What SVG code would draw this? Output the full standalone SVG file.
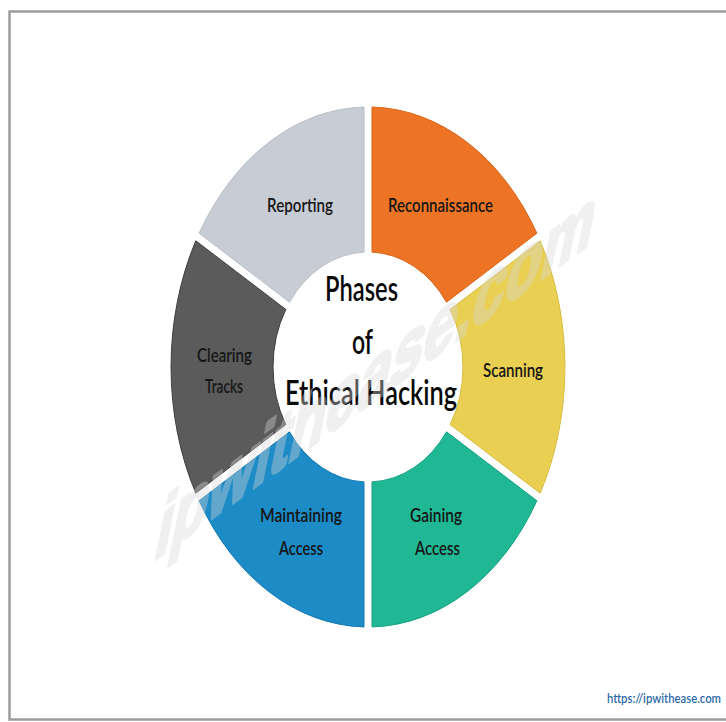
<svg xmlns="http://www.w3.org/2000/svg" width="726" height="722" viewBox="0 0 726 722">
  <style>
    .seg { stroke-width: 1; }
    .lbl { font-family: Lato, "Open Sans", "Liberation Sans", sans-serif; font-size: 20px; font-weight: 600; fill: #161616; text-anchor: middle; }
    .title { font-family: Lato, "Open Sans", "Liberation Sans", sans-serif; font-size: 34px; font-weight: 600; fill: #0a0a0a; text-anchor: middle; }
    .mark { font-family: "Liberation Sans", Arial, sans-serif; font-size: 92px; font-weight: bold; fill: #d8d8d8; stroke: #d8d8d8; stroke-width: 4; stroke-linejoin: round; }
    .url { font-family: Lato, "Open Sans", "Liberation Sans", sans-serif; font-size: 14px; font-weight: 600; fill: #2c6aa8; }
  </style>

  <!-- page -->
  <rect x="0" y="0" width="726" height="722" fill="#ffffff"/>
  <rect x="9.5" y="11.5" width="740" height="708" fill="#ffffff" stroke="#9c9c9c" stroke-width="2.5"/>

  <!-- ring segments, clockwise from the top -->
  <g id="reconnaissance">
    <path class="seg" fill="#ec7424" stroke="#d9661a" d="M 372 107.05 A 197 260 0 0 1 536.9 233.2 L 446.5 302.2 A 95 115 0 0 0 372 252.1 Z"/>
    <text class="lbl" x="440.5" y="212" textLength="105" lengthAdjust="spacingAndGlyphs">Reconnaissance</text>
  </g>
  <g id="scanning">
    <path class="seg" fill="#e9cf52" stroke="#d8bd40" d="M 540.2 240.8 A 197 260 0 0 1 540.2 493.2 L 450.2 424.6 A 95 115 0 0 0 450.2 309.4 Z"/>
    <text class="lbl" x="513" y="377" textLength="60" lengthAdjust="spacingAndGlyphs">Scanning</text>
  </g>
  <g id="gaining-access">
    <path class="seg" fill="#20b795" stroke="#17a383" d="M 536.9 500.75 A 197 260 0 0 1 372 626.95 L 372 481.9 A 95 115 0 0 0 446.5 431.8 Z"/>
    <text class="lbl" x="436" y="522" textLength="52" lengthAdjust="spacingAndGlyphs">Gaining</text>
    <text class="lbl" x="437.5" y="555" textLength="45" lengthAdjust="spacingAndGlyphs">Access</text>
  </g>
  <g id="maintaining-access">
    <path class="seg" fill="#1c8bc6" stroke="#137ab2" d="M 364 626.95 A 197 260 0 0 1 199.1 500.75 L 289.5 431.8 A 95 115 0 0 0 364 481.9 Z"/>
    <text class="lbl" x="301" y="522" textLength="82" lengthAdjust="spacingAndGlyphs" fill="#0d2238">Maintaining</text>
    <text class="lbl" x="301" y="555" textLength="44" lengthAdjust="spacingAndGlyphs" fill="#0d2238">Access</text>
  </g>
  <g id="clearing-tracks">
    <path class="seg" fill="#5b5b5b" stroke="#3e3e3e" d="M 195.8 493.2 A 197 260 0 0 1 195.8 240.8 L 285.8 309.4 A 95 115 0 0 0 285.8 424.6 Z"/>
    <text class="lbl" x="224.5" y="362" textLength="55" lengthAdjust="spacingAndGlyphs">Clearing</text>
    <text class="lbl" x="224" y="393" textLength="38" lengthAdjust="spacingAndGlyphs">Tracks</text>
  </g>
  <g id="reporting">
    <path class="seg" fill="#c8cdd5" stroke="#b9bec7" d="M 199.1 233.2 A 197 260 0 0 1 364 107.05 L 364 252.1 A 95 115 0 0 0 289.5 302.2 Z"/>
    <text class="lbl" x="300" y="212" textLength="66" lengthAdjust="spacingAndGlyphs">Reporting</text>
  </g>

  <!-- centre title -->
  <g id="title">
    <text class="title" x="361.5" y="301" textLength="73" lengthAdjust="spacingAndGlyphs">Phases</text>
    <text class="title" x="362.5" y="354" textLength="21" lengthAdjust="spacingAndGlyphs">of</text>
    <text class="title" x="371" y="405" textLength="172" lengthAdjust="spacingAndGlyphs">Ethical Hacking</text>
  </g>

  <!-- site watermark, slanted along the diagonal -->
  <g opacity="0.38">
    <text class="mark" transform="matrix(0.809 -0.588 -0.2 0.98 152 562)" textLength="541" lengthAdjust="spacingAndGlyphs">ipwithease.com</text>
  </g>

  <!-- footer link -->
  <text class="url" x="607" y="703" textLength="114" lengthAdjust="spacingAndGlyphs">https://ipwithease.com</text>
</svg>
